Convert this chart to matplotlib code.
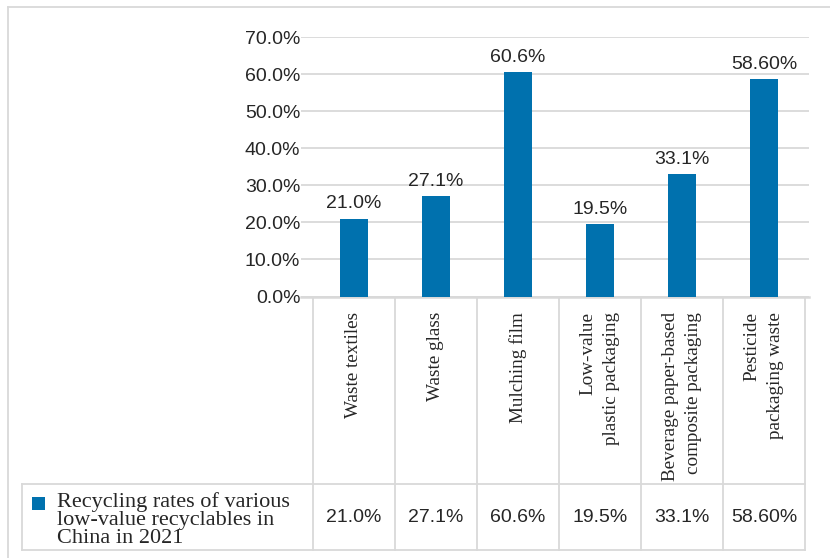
import matplotlib
matplotlib.use("Agg")
import matplotlib.pyplot as plt
from matplotlib.patches import Rectangle
from matplotlib.lines import Line2D
from matplotlib.transforms import blended_transform_factory

# ---- data ----
categories = ["Waste textiles", "Waste glass", "Mulching film",
              "Low-value\nplastic packaging",
              "Beverage paper-based\ncomposite packaging",
              "Pesticide\npackaging waste"]
rates = [21.0, 27.1, 60.6, 19.5, 33.1, 58.6]
rate_labels = ["21.0%", "27.1%", "60.6%", "19.5%", "33.1%", "58.60%"]
series_name = "Recycling rates of various\nlow-value recyclables in\nChina in 2021"
yticks = [0, 10, 20, 30, 40, 50, 60, 70]
ytick_labels = ["0.0%", "10.0%", "20.0%", "30.0%", "40.0%", "50.0%", "60.0%", "70.0%"]

# ---- style ----
BAR = "#0071AE"
GRID = "#D9D9D9"
TXT = "#262626"
SANS = ["Liberation Sans", "DejaVu Sans"]
SERIF = ["Liberation Serif", "DejaVu Serif"]

W, H = 830, 558
fig = plt.figure(figsize=(W / 100, H / 100), dpi=100)


def fx(px):
    return px / W


def fy(py):
    return 1 - py / H


# plot area
ax = fig.add_axes([fx(301), fy(296.5), fx(809) - fx(301), fy(37) - fy(296.5)])
x = list(range(len(categories)))
bars = ax.bar(x, rates, width=0.34, color=BAR, zorder=3)
ax.set_xlim(-0.5 - 12 / 82, len(categories) - 0.5 + 4 / 82)
ax.set_ylim(0, 70)
ax.set_yticks(yticks)
ax.set_yticklabels(ytick_labels, fontfamily=SANS, fontsize=14, color=TXT)
ax.set_xticks([])
ax.tick_params(axis="y", length=0, pad=0.5)
ax.yaxis.grid(True, color=GRID, lw=1.3, zorder=0)
for side in ("left", "right", "top"):
    ax.spines[side].set_visible(False)
ax.spines["bottom"].set_color(GRID)
ax.spines["bottom"].set_linewidth(1.8)
ax.bar_label(bars, labels=rate_labels, padding=4.5, fontsize=14,
             fontfamily=SANS, color=TXT)

# data table under the axis
tr = blended_transform_factory(ax.transData, fig.transFigure)
for k in range(len(categories) + 1):
    fig.add_artist(Line2D([k - 0.5, k - 0.5], [fy(298), fy(550)],
                          transform=tr, color=GRID, lw=1.3))
for yy in (484, 550):
    fig.add_artist(Line2D([fx(22), fx(805)], [fy(yy), fy(yy)],
                          transform=fig.transFigure, color=GRID, lw=1.3))
fig.add_artist(Line2D([fx(22), fx(22)], [fy(484), fy(550)],
                      transform=fig.transFigure, color=GRID, lw=1.3))

for i, (cat, lab) in enumerate(zip(categories, rate_labels)):
    fig.text(i, fy(312), cat, transform=tr, rotation=90, va="top",
             ha="center", multialignment="right", fontfamily=SERIF,
             fontsize=13.8, color=TXT, linespacing=1.5)
    fig.text(i, fy(517), lab, transform=tr, va="center", ha="center",
             fontfamily=SANS, fontsize=14, color=TXT)

# series key
fig.add_artist(Rectangle((fx(32), fy(510)), fx(45) - fx(32), fy(497) - fy(510),
                         transform=fig.transFigure, color=BAR, lw=0))
fig.text(fx(57), fy(492), series_name, va="top", ha="left",
         fontfamily=SERIF, fontsize=16, color=TXT, linespacing=0.93)

# chart frame
fig.add_artist(Line2D([fx(8), fx(8)], [fy(7), 0], transform=fig.transFigure,
                      color=GRID, lw=1.3))
fig.add_artist(Line2D([fx(8), 1], [fy(7), fy(7)], transform=fig.transFigure,
                      color=GRID, lw=1.3))

fig.savefig("out.png", dpi=100, facecolor="white")
